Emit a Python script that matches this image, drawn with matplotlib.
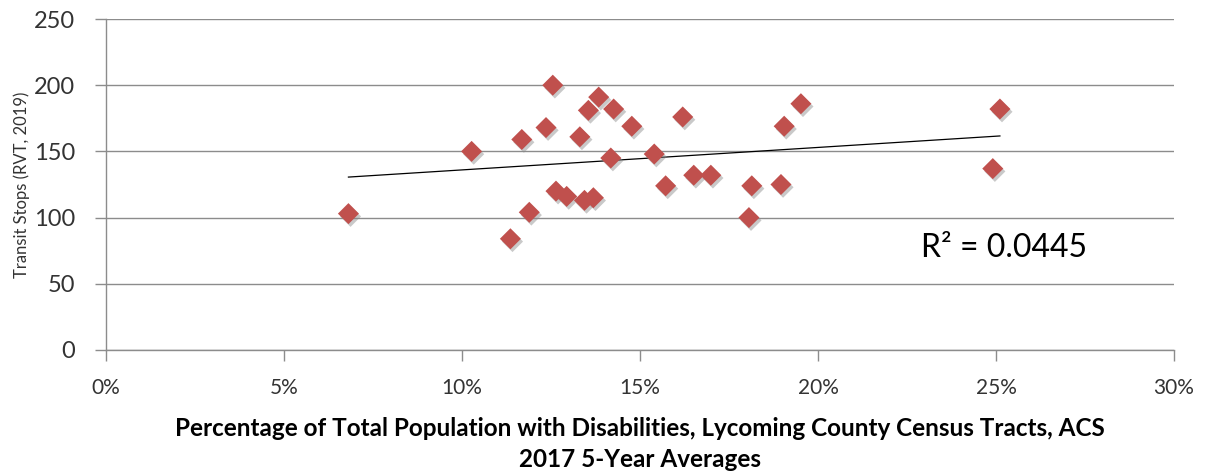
import numpy as np
import matplotlib.pyplot as plt
import matplotlib.patheffects as pe
from matplotlib.ticker import FuncFormatter

# share of population with disabilities (%) and transit stops per tract
disability_pct = [6.81, 10.27, 11.68, 12.36, 12.55, 13.31, 13.55, 13.84, 14.26, 14.77,
                  14.18, 16.20, 15.40, 19.05, 19.52, 12.64, 12.94, 13.44, 13.69, 11.89,
                  11.36, 15.72, 16.51, 16.99, 18.14, 18.96, 18.06, 25.11, 24.91]
transit_stops = [103, 150, 159, 168, 200, 161, 181, 191, 182, 169,
                 145, 176, 148, 169, 186, 120, 116, 113, 115, 104,
                 84, 124, 132, 132, 124, 125, 100, 182, 137]
r2_label = 'R\u00b2 = 0.0445'

x_ticks = [0, 5, 10, 15, 20, 25, 30]
y_ticks = [0, 50, 100, 150, 200, 250]

plt.rcParams['font.family'] = ['Lato', 'DejaVu Sans']

fig = plt.figure(figsize=(12.09, 4.74), dpi=100)
ax = fig.add_axes([106 / 1209, 1 - 350 / 474, (1174 - 106) / 1209, (350 - 19) / 474])

x = np.array(disability_pct)
y = np.array(transit_stops)

ax.scatter(x, y, marker='D', s=115, color='#C0504D', zorder=3, linewidths=0,
           path_effects=[pe.SimplePatchShadow(offset=(1.5, -2), shadow_rgbFace='#888888', alpha=0.45),
                         pe.Normal()])

# linear trend line across the data range
slope, intercept = np.polyfit(x, y, 1)
xs = np.array([x.min(), x.max()])
ax.plot(xs, slope * xs + intercept, color='black', lw=0.9, zorder=2)

ax.text(22.9, 77, r2_label, fontsize=23, va='center', ha='left', color='black')

ax.set_xlim(0, 30)
ax.set_ylim(0, 250)
ax.set_xticks(x_ticks)
ax.set_yticks(y_ticks)
ax.xaxis.set_major_formatter(FuncFormatter(lambda v, p: f'{int(v)}%'))

ax.grid(axis='y', color='#8c8c8c', lw=1)
ax.set_axisbelow(True)
for side in ['top', 'right']:
    ax.spines[side].set_visible(False)
for side in ['left', 'bottom']:
    ax.spines[side].set_color('#8c8c8c')
    ax.spines[side].set_linewidth(1)

ax.tick_params(axis='both', colors='#8c8c8c', length=8, width=1, labelcolor='#333333')
ax.tick_params(axis='x', pad=12, labelsize=15)
ax.tick_params(axis='y', pad=14, labelsize=17)

ax.set_ylabel('Transit Stops (RVT, 2019)', fontsize=12, color='#333333', labelpad=3)
ax.set_xlabel('Percentage of Total Population with Disabilities, Lycoming County Census Tracts, ACS\n'
              '2017 5-Year Averages', fontsize=17.5, fontweight='bold', color='black',
              linespacing=1.4, labelpad=14)

fig.savefig('out.png', dpi=100, facecolor='white')
